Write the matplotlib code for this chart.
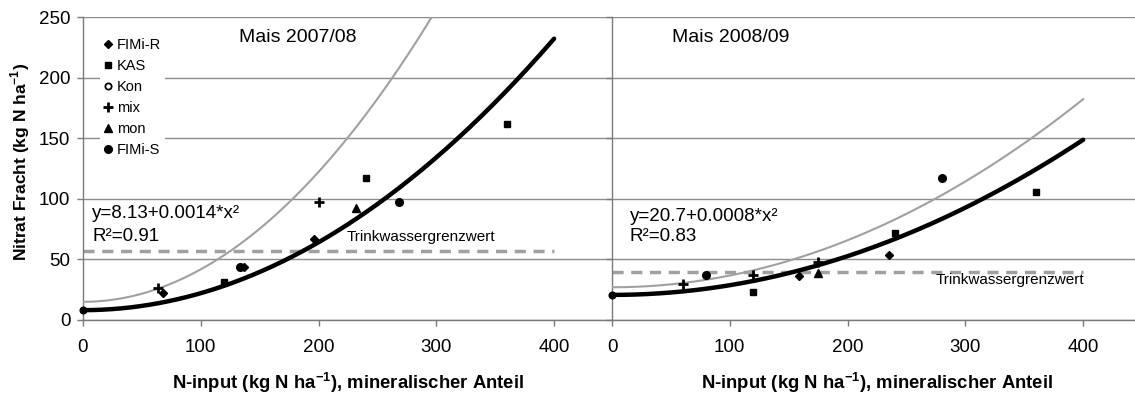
import numpy as np
import matplotlib
matplotlib.use('Agg')
import matplotlib.pyplot as plt
from matplotlib.lines import Line2D

plt.rcParams['font.family'] = ['Liberation Sans', 'DejaVu Sans']
plt.rcParams['mathtext.fontset'] = 'custom'
plt.rcParams['mathtext.rm'] = 'Liberation Sans'
plt.rcParams['mathtext.bf'] = 'Liberation Sans:bold'

# ---- data ----
TREATMENTS = ['FIMi-R', 'KAS', 'Kon', 'mix', 'mon', 'FIMi-S']

# Mais 2007/08
pts_0708 = {
    'FIMi-R': ([68, 137, 196], [22, 44, 67]),
    'KAS':    ([120, 240, 360], [31, 117, 162]),
    'Kon':    ([0], [8]),
    'mix':    ([64, 200], [26, 97]),
    'mon':    ([232], [92]),
    'FIMi-S': ([133, 268], [44, 97]),
}
# Mais 2008/09
pts_0809 = {
    'FIMi-R': ([159, 235], [36, 54]),
    'KAS':    ([120, 240, 360], [23, 72, 106]),
    'Kon':    ([0], [21]),
    'mix':    ([60, 120, 175], [30, 37, 48]),
    'mon':    ([175], [39]),
    'FIMi-S': ([80, 280], [37, 117]),
}

# y = a + b*x^2 (black = fit from the chart, grey = upper curve)
fit_0708 = (8.13, 0.0014)
grey_0708 = (15.0, 0.00268)
fit_0809 = (20.7, 0.0008)
grey_0809 = (27.0, 0.00097)

limit_0708 = 57   # Trinkwassergrenzwert
limit_0809 = 40

MARKERS = {
    'FIMi-R': dict(marker='D', ms=4.2, mfc='black', mec='black'),
    'KAS':    dict(marker='s', ms=5, mfc='black', mec='black'),
    'Kon':    dict(marker='o', ms=4.5, mfc='white', mec='black', mew=1.3),
    'mix':    dict(marker='+', ms=7, mec='black', mew=2),
    'mon':    dict(marker='^', ms=5.5, mfc='black', mec='black'),
    'FIMi-S': dict(marker='o', ms=5.5, mfc='black', mec='black'),
}

GRID = '#8c8c8c'
GREY = '#a0a0a0'


def style_axes(ax, xmax, show_ylabels):
    ax.set_xlim(0, xmax)
    ax.set_ylim(0, 250)
    ax.set_xticks([0, 100, 200, 300, 400])
    ax.set_yticks([0, 50, 100, 150, 200, 250])
    ax.grid(axis='y', color=GRID, lw=1)
    ax.set_axisbelow(True)
    for s in ['top', 'right']:
        ax.spines[s].set_visible(False)
    for s in ['left', 'bottom']:
        ax.spines[s].set_color('#7a7a7a')
        ax.spines[s].set_linewidth(1)
    ax.tick_params(axis='x', direction='out', length=4, width=1, color='#7a7a7a',
                   pad=10, labelsize=13.5, labelcolor='black')
    ax.tick_params(axis='y', direction='out', length=4, width=1, color='#7a7a7a',
                   pad=5, labelsize=13.5, labelleft=show_ylabels)


def draw_panel(ax, pts, fit, grey, limit, xmax, show_legend):
    xs = np.linspace(0, 400, 200)
    ax.plot([0, 400], [limit, limit], color=GREY, lw=2.5, ls=(0, (3.2, 2.2)), zorder=2)
    ax.plot(xs, grey[0] + grey[1] * xs ** 2, color=GREY, lw=1.5, zorder=3)
    ax.plot(xs, fit[0] + fit[1] * xs ** 2, color='black', lw=3.2,
            solid_capstyle='round', zorder=4)
    for t in TREATMENTS:
        x, y = pts[t]
        kw = dict(MARKERS[t])
        z = 5
        if t == 'Kon':
            # control plot sits under the start of the fit line
            kw['mfc'] = 'black'
            z = 3.5
        ax.plot(x, y, ls='none', zorder=z, clip_on=False, **kw)
    style_axes(ax, xmax, show_legend)
    if show_legend:
        handles = [Line2D([], [], ls='none', **MARKERS[t]) for t in TREATMENTS]
        leg = ax.legend(handles, TREATMENTS, loc='upper left',
                        bbox_to_anchor=(0.018, 0.968), fontsize=10.5,
                        frameon=True, framealpha=1, edgecolor='none', facecolor='white',
                        handlelength=0.5, handletextpad=0.35, labelspacing=0.47,
                        borderpad=0.3, fancybox=False)
        leg.set_zorder(6)


fig = plt.figure(figsize=(11.35, 3.94), dpi=100)
ax1 = fig.add_axes([83 / 1135, 74 / 394, 530 / 1135, 303 / 394])
ax2 = fig.add_axes([612 / 1135, 74 / 394, 523 / 1135, 303 / 394])

draw_panel(ax1, pts_0708, fit_0708, grey_0708, limit_0708, 450, True)
draw_panel(ax2, pts_0809, fit_0809, grey_0809, limit_0809, 444, False)

ax1.text(182, 233, 'Mais 2007/08', ha='center', va='center', fontsize=14)
ax2.text(101, 233, 'Mais 2008/09', ha='center', va='center', fontsize=14)

ax1.text(8, 87.5, 'y=8.13+0.0014*x²', ha='left', va='center', fontsize=13.5)
ax1.text(8, 69, 'R²=0.91', ha='left', va='center', fontsize=13.5)
ax2.text(15, 85, 'y=20.7+0.0008*x²', ha='left', va='center', fontsize=13.5)
ax2.text(15, 68.5, 'R²=0.83', ha='left', va='center', fontsize=13.5)

ax1.text(224, 68.5, 'Trinkwassergrenzwert', ha='left', va='center', fontsize=11)
ax2.text(401, 33, 'Trinkwassergrenzwert', ha='right', va='center', fontsize=11)

xlab = r'N-input (kg N ha$^{\mathbf{-1}}$), mineralischer Anteil'
fig.text(348 / 1135, 1 - 383 / 394, xlab, ha='center', va='center',
         fontsize=13.3, fontweight='bold')
fig.text(877 / 1135, 1 - 383 / 394, xlab, ha='center', va='center',
         fontsize=13.3, fontweight='bold')
fig.text(20 / 1135, 1 - 162 / 394, r'Nitrat Fracht (kg N ha$^{\mathbf{-1}}$)',
         ha='center', va='center', rotation=90, fontsize=12.5, fontweight='bold')

fig.savefig('out.png', dpi=100)
